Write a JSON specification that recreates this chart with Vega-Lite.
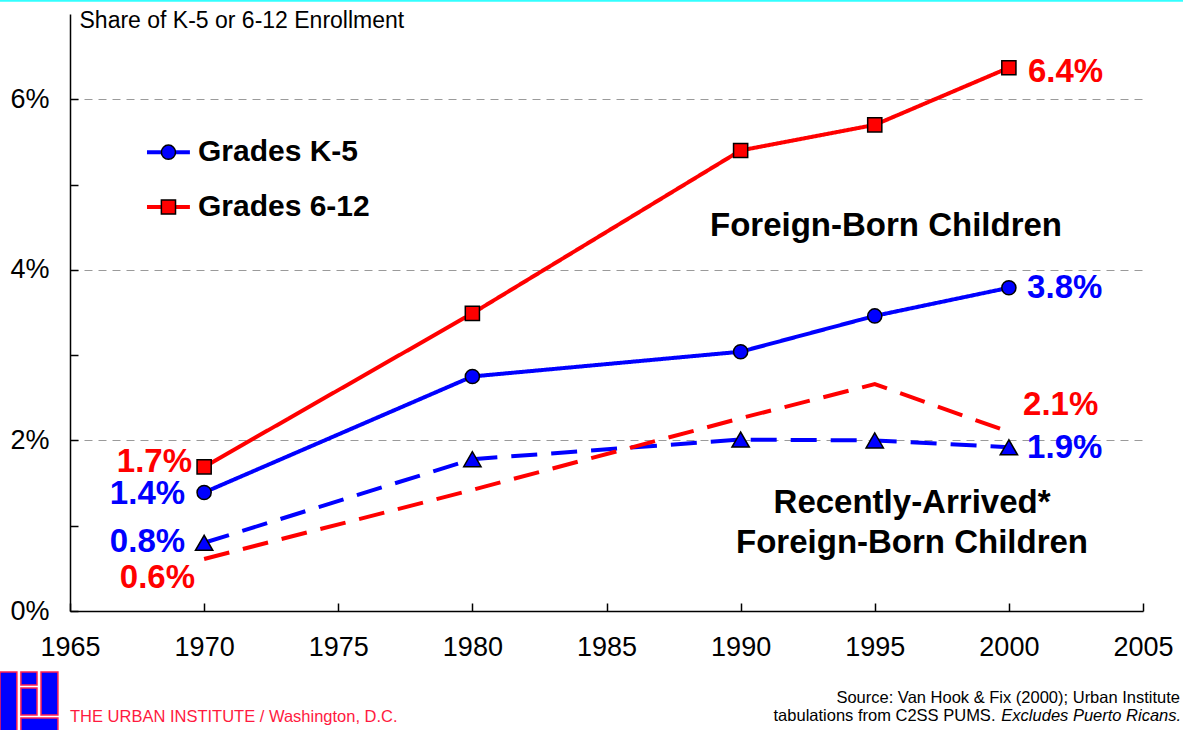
{
  "$schema": "https://vega.github.io/schema/vega-lite/v6.json",
  "width": 1073,
  "height": 597,
  "autosize": {"type": "none"},
  "padding": {"left": 70, "top": 14, "right": 40, "bottom": 119},
  "background": "white",
  "config": {
    "view": {"stroke": null},
    "font": "Liberation Sans",
    "text": {"font": "Liberation Sans"}
  },
  "datasets": {
    "series": [
      {"year": 1970, "value": 1.39, "grade": "K-5", "group": "All"},
      {"year": 1980, "value": 2.75, "grade": "K-5", "group": "All"},
      {"year": 1990, "value": 3.04, "grade": "K-5", "group": "All"},
      {"year": 1995, "value": 3.46, "grade": "K-5", "group": "All"},
      {"year": 2000, "value": 3.79, "grade": "K-5", "group": "All"},
      {"year": 1970, "value": 1.69, "grade": "6-12", "group": "All"},
      {"year": 1980, "value": 3.49, "grade": "6-12", "group": "All"},
      {"year": 1990, "value": 5.40, "grade": "6-12", "group": "All"},
      {"year": 1995, "value": 5.70, "grade": "6-12", "group": "All"},
      {"year": 2000, "value": 6.37, "grade": "6-12", "group": "All"},
      {"year": 1970, "value": 0.80, "grade": "K-5", "group": "Recent"},
      {"year": 1980, "value": 1.78, "grade": "K-5", "group": "Recent"},
      {"year": 1990, "value": 2.01, "grade": "K-5", "group": "Recent"},
      {"year": 1995, "value": 2.00, "grade": "K-5", "group": "Recent"},
      {"year": 2000, "value": 1.92, "grade": "K-5", "group": "Recent"},
      {"year": 1970, "value": 0.61, "grade": "6-12", "group": "Recent"},
      {"year": 1980, "value": 1.42, "grade": "6-12", "group": "Recent"},
      {"year": 1990, "value": 2.26, "grade": "6-12", "group": "Recent"},
      {"year": 1995, "value": 2.66, "grade": "6-12", "group": "Recent"},
      {"year": 2000, "value": 2.10, "grade": "6-12", "group": "Recent"}
    ],
    "pct": [
      {"label": "1.7%", "grade": "6-12", "side": "L", "year": 1969.55, "value": 1.75},
      {"label": "1.4%", "grade": "K-5", "side": "L", "year": 1969.29, "value": 1.372},
      {"label": "0.8%", "grade": "K-5", "side": "L", "year": 1969.29, "value": 0.81},
      {"label": "0.6%", "grade": "6-12", "side": "L", "year": 1969.66, "value": 0.387},
      {"label": "6.4%", "grade": "6-12", "side": "R", "year": 2000.71, "value": 6.32},
      {"label": "3.8%", "grade": "K-5", "side": "R", "year": 2000.68, "value": 3.787},
      {"label": "2.1%", "grade": "6-12", "side": "R", "year": 2000.53, "value": 2.415},
      {"label": "1.9%", "grade": "K-5", "side": "R", "year": 2000.68, "value": 1.911}
    ],
    "notes": [
      {"label": "Foreign-Born Children", "year": 1995.42, "value": 4.514},
      {"label": "Recently-Arrived*", "year": 1996.39, "value": 1.266},
      {"label": "Foreign-Born Children", "year": 1996.39, "value": 0.797}
    ],
    "legend": [
      {"label": "Grades K-5", "grade": "K-5", "start": 1967.87, "end": 1969.47, "mid": 1968.67, "textx": 1969.77, "value": 5.38},
      {"label": "Grades 6-12", "grade": "6-12", "start": 1967.87, "end": 1969.47, "mid": 1968.67, "textx": 1969.77, "value": 4.737}
    ],
    "footer": [
      {"label": "Source: Van Hook & Fix (2000); Urban Institute", "kind": "src", "year": 2006.38, "value": -1.02},
      {"label": "tabulations from C2SS PUMS.", "kind": "src", "year": 1999.50, "value": -1.231},
      {"label": "Excludes Puerto Ricans.", "kind": "ital", "year": 1999.72, "value": -1.231},
      {"label": "THE URBAN INSTITUTE / Washington, D.C.", "kind": "ui", "year": 1965.0, "value": -1.243}
    ],
    "logo": [
      {"year": 1962.39, "year2": 1963.02, "value": -0.715, "value2": -1.42},
      {"year": 1963.17, "year2": 1963.77, "value": -0.715, "value2": -0.868},
      {"year": 1963.17, "year2": 1963.77, "value": -0.903, "value2": -1.219},
      {"year": 1963.92, "year2": 1964.55, "value": -0.715, "value2": -1.219},
      {"year": 1963.17, "year2": 1964.55, "value": -1.255, "value2": -1.42}
    ],
    "topline": [
      {"year": 1962.3, "year2": 2006.7, "value": 7.155}
    ]
  },
  "layer": [
    {
      "data": {"name": "series"},
      "mark": {"type": "line", "strokeWidth": 4, "strokeCap": "butt"},
      "encoding": {
        "x": {
          "field": "year", "type": "quantitative",
          "scale": {"domain": [1965, 2005], "nice": false, "zero": false},
          "axis": {
            "title": null,
            "values": [1965, 1970, 1975, 1980, 1985, 1990, 1995, 2000, 2005],
            "format": "d",
            "labelFontSize": 27,
            "labelColor": "black",
            "labelFont": "Liberation Sans",
            "labelPadding": 31,
            "labelOverlap": false,
            "labelFlush": false,
            "tickSize": -8,
            "tickWidth": 1.5,
            "tickColor": "black",
            "domainColor": "black",
            "domainWidth": 1.5,
            "grid": false
          }
        },
        "y": {
          "field": "value", "type": "quantitative",
          "scale": {"domain": [0, 7], "nice": false, "zero": true},
          "axis": {
            "title": "Share of K-5 or 6-12 Enrollment",
            "titleAngle": 0,
            "titleAlign": "left",
            "titleBaseline": "middle",
            "titleX": 9,
            "titleY": 6,
            "titleFontSize": 23,
            "titleFontWeight": "normal",
            "titleFont": "Liberation Sans",
            "titleColor": "black",
            "values": [0, 1, 2, 3, 4, 5, 6],
            "labelExpr": "datum.value % 2 == 0 ? datum.value + '%' : ''",
            "labelFontSize": 27,
            "labelColor": "black",
            "labelFont": "Liberation Sans",
            "labelPadding": 29,
            "labelOverlap": false,
            "labelFlush": false,
            "tickSize": -8,
            "tickWidth": 1.5,
            "tickColor": "black",
            "domainColor": "black",
            "domainWidth": 1.5,
            "grid": true,
            "gridColor": "#9a9a9a",
            "gridWidth": 1,
            "gridDash": [8, 6],
            "gridOpacity": {"condition": {"test": "datum.value == 2 || datum.value == 4 || datum.value == 6", "value": 1}, "value": 0}
          }
        },
        "color": {
          "field": "grade", "type": "nominal",
          "scale": {"domain": ["K-5", "6-12"], "range": ["#0000ff", "#ff0000"]},
          "legend": null
        },
        "strokeDash": {
          "field": "group", "type": "nominal",
          "scale": {"domain": ["All", "Recent"], "range": [[1, 0], [26, 14]]},
          "legend": null
        }
      }
    },
    {
      "data": {"name": "series"},
      "transform": [{"filter": "datum.grade == 'K-5' && datum.group == 'All'"}],
      "mark": {"type": "point", "shape": "circle", "filled": true, "fill": "#0000ff", "stroke": "black", "strokeWidth": 1.5, "size": 200, "opacity": 1},
      "encoding": {
        "x": {"field": "year", "type": "quantitative"},
        "y": {"field": "value", "type": "quantitative"}
      }
    },
    {
      "data": {"name": "series"},
      "transform": [{"filter": "datum.grade == '6-12' && datum.group == 'All'"}],
      "mark": {"type": "point", "shape": "square", "filled": true, "fill": "#ff0000", "stroke": "black", "strokeWidth": 1.5, "size": 200, "opacity": 1},
      "encoding": {
        "x": {"field": "year", "type": "quantitative"},
        "y": {"field": "value", "type": "quantitative"}
      }
    },
    {
      "data": {"name": "series"},
      "transform": [{"filter": "datum.grade == 'K-5' && datum.group == 'Recent'"}],
      "mark": {"type": "point", "shape": "triangle-up", "filled": true, "fill": "#0000ff", "stroke": "black", "strokeWidth": 1.5, "size": 300, "opacity": 1},
      "encoding": {
        "x": {"field": "year", "type": "quantitative"},
        "y": {"field": "value", "type": "quantitative"}
      }
    },
    {
      "data": {"name": "pct"},
      "transform": [{"filter": "datum.side == 'L'"}],
      "mark": {"type": "text", "align": "right", "baseline": "middle", "fontSize": 33, "fontWeight": "bold"},
      "encoding": {
        "x": {"field": "year", "type": "quantitative"},
        "y": {"field": "value", "type": "quantitative"},
        "text": {"field": "label"},
        "color": {"field": "grade", "type": "nominal", "legend": null}
      }
    },
    {
      "data": {"name": "pct"},
      "transform": [{"filter": "datum.side == 'R'"}],
      "mark": {"type": "text", "align": "left", "baseline": "middle", "fontSize": 33, "fontWeight": "bold"},
      "encoding": {
        "x": {"field": "year", "type": "quantitative"},
        "y": {"field": "value", "type": "quantitative"},
        "text": {"field": "label"},
        "color": {"field": "grade", "type": "nominal", "legend": null}
      }
    },
    {
      "data": {"name": "notes"},
      "mark": {"type": "text", "align": "center", "baseline": "middle", "fontSize": 33, "fontWeight": "bold", "color": "black"},
      "encoding": {
        "x": {"field": "year", "type": "quantitative"},
        "y": {"field": "value", "type": "quantitative"},
        "text": {"field": "label"}
      }
    },
    {
      "data": {"name": "legend"},
      "mark": {"type": "rule", "strokeWidth": 4},
      "encoding": {
        "x": {"field": "start", "type": "quantitative"},
        "x2": {"field": "end"},
        "y": {"field": "value", "type": "quantitative"},
        "color": {"field": "grade", "type": "nominal", "legend": null}
      }
    },
    {
      "data": {"name": "legend"},
      "transform": [{"filter": "datum.grade == 'K-5'"}],
      "mark": {"type": "point", "shape": "circle", "filled": true, "fill": "#0000ff", "stroke": "black", "strokeWidth": 1.5, "size": 200, "opacity": 1},
      "encoding": {
        "x": {"field": "mid", "type": "quantitative"},
        "y": {"field": "value", "type": "quantitative"}
      }
    },
    {
      "data": {"name": "legend"},
      "transform": [{"filter": "datum.grade == '6-12'"}],
      "mark": {"type": "point", "shape": "square", "filled": true, "fill": "#ff0000", "stroke": "black", "strokeWidth": 1.5, "size": 200, "opacity": 1},
      "encoding": {
        "x": {"field": "mid", "type": "quantitative"},
        "y": {"field": "value", "type": "quantitative"}
      }
    },
    {
      "data": {"name": "legend"},
      "mark": {"type": "text", "align": "left", "baseline": "middle", "fontSize": 30, "fontWeight": "bold", "color": "black"},
      "encoding": {
        "x": {"field": "textx", "type": "quantitative"},
        "y": {"field": "value", "type": "quantitative"},
        "text": {"field": "label"}
      }
    },
    {
      "data": {"name": "footer"},
      "transform": [{"filter": "datum.kind == 'src'"}],
      "mark": {"type": "text", "align": "right", "baseline": "middle", "fontSize": 16.5, "color": "black"},
      "encoding": {
        "x": {"field": "year", "type": "quantitative"},
        "y": {"field": "value", "type": "quantitative"},
        "text": {"field": "label"}
      }
    },
    {
      "data": {"name": "footer"},
      "transform": [{"filter": "datum.kind == 'ital'"}],
      "mark": {"type": "text", "align": "left", "baseline": "middle", "fontSize": 16.5, "fontStyle": "italic", "color": "black"},
      "encoding": {
        "x": {"field": "year", "type": "quantitative"},
        "y": {"field": "value", "type": "quantitative"},
        "text": {"field": "label"}
      }
    },
    {
      "data": {"name": "footer"},
      "transform": [{"filter": "datum.kind == 'ui'"}],
      "mark": {"type": "text", "align": "left", "baseline": "middle", "fontSize": 16.5, "color": "#ff1a40"},
      "encoding": {
        "x": {"field": "year", "type": "quantitative"},
        "y": {"field": "value", "type": "quantitative"},
        "text": {"field": "label"}
      }
    },
    {
      "data": {"name": "logo"},
      "mark": {"type": "rect", "fill": "#0000ff", "stroke": "#ff2050", "strokeWidth": 1.5},
      "encoding": {
        "x": {"field": "year", "type": "quantitative"},
        "x2": {"field": "year2"},
        "y": {"field": "value", "type": "quantitative"},
        "y2": {"field": "value2"}
      }
    },
    {
      "data": {"name": "topline"},
      "mark": {"type": "rule", "color": "#33ffff", "strokeWidth": 2},
      "encoding": {
        "x": {"field": "year", "type": "quantitative"},
        "x2": {"field": "year2"},
        "y": {"field": "value", "type": "quantitative"}
      }
    }
  ]
}
